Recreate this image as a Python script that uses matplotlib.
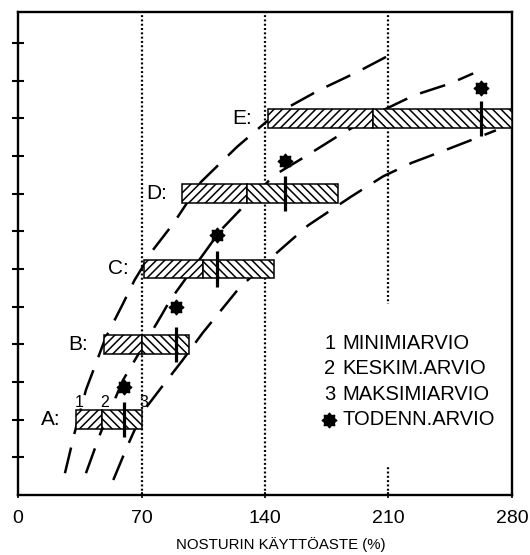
import matplotlib
matplotlib.use('Agg')
import matplotlib.pyplot as plt
from matplotlib import font_manager
from matplotlib.patches import Rectangle
from matplotlib.path import Path

# ---------------- data ----------------
categories = ['A', 'B', 'C', 'D', 'E']
levels = [2, 4, 6, 8, 10]
min_est = [33.0, 48.5, 71.6, 92.9, 141.5]     # 1 MINIMIARVIO
mid_est = [47.5, 70.0, 105.0, 129.9, 201.0]   # 2 KESKIM.ARVIO
max_est = [70.0, 97.2, 145.3, 181.1, 280.0]   # 3 MAKSIMIARVIO
prob_est = [59.8, 89.4, 112.6, 151.1, 262.2]  # TODENN.ARVIO
prob_star_y = [2.87, 4.99, 6.90, 8.87, 10.80]

upper_x = [26.6, 32.0, 38.5, 49.5, 59.5, 66.0, 76.4, 88.1, 103.7, 124.1, 140.6, 153.4, 170.4, 192.4, 210.3]
upper_y = [0.58, 1.64, 2.79, 4.16, 5.08, 5.70, 6.50, 7.21, 8.31, 9.24, 9.90, 10.30, 10.74, 11.23, 11.67]
middle_x = [38.5, 46.7, 59.5, 81.3, 86.2, 114.9, 127.6, 145.3, 162.3, 182.1, 205.0, 224.5, 244.8, 258.0]
middle_y = [0.58, 1.64, 3.05, 4.77, 5.17, 7.03, 7.65, 8.49, 8.97, 9.55, 10.17, 10.61, 10.92, 11.19]
lower_x = [54.0, 62.0, 70.6, 82.0, 92.8, 104.6, 125.1, 146.2, 164.5, 188.8, 207.0, 223.3, 241.4, 256.8, 270.9]
lower_y = [0.40, 1.30, 2.20, 2.90, 3.55, 4.30, 5.48, 6.41, 7.16, 7.92, 8.46, 8.82, 9.14, 9.42, 9.68]

x_ticks = [0, 70, 140, 210, 280]
y_ticks = list(range(1, 13))
grid_x = [70, 140, 210]
legend_nums = ['1', '2', '3', None]
legend_texts = ['MINIMIARVIO', 'KESKIM.ARVIO', 'MAKSIMIARVIO', 'TODENN.ARVIO']
x_label = 'NOSTURIN KÄYTTÖASTE (%)'

# ---------------- fonts ----------------
names = {f.name for f in font_manager.fontManager.ttflist}
if 'Liberation Sans Narrow' in names:
    BIG_FONT, LEG_SIZE, LAB_SIZE = 'Liberation Sans Narrow', 16.5, 17
else:
    BIG_FONT, LEG_SIZE, LAB_SIZE = 'Liberation Sans', 14.5, 15

plt.rcParams['font.family'] = ['Liberation Sans', 'DejaVu Sans']
plt.rcParams['hatch.linewidth'] = 1.1
plt.rcParams['lines.scale_dashes'] = False

fig = plt.figure(figsize=(5.3, 5.55), dpi=100)
ax = fig.add_axes([0.034, 0.108, 0.932, 0.871])
ax.set_xlim(0, 280)
ax.set_ylim(0, 12.83)

for gx in grid_x:
    ax.axvline(gx, color='black', lw=1.6, ls=(0, (1.4, 1.7)), zorder=1)

for cx, cy in [(upper_x, upper_y), (middle_x, middle_y), (lower_x, lower_y)]:
    ax.plot(cx, cy, color='black', lw=1.8, dashes=(19, 10), zorder=2)

h = 0.5
ax.barh(levels, [m - a for a, m in zip(min_est, mid_est)], left=min_est, height=h,
        facecolor='white', edgecolor='black', lw=1.1, hatch='////', zorder=3)
ax.barh(levels, [b - m for m, b in zip(mid_est, max_est)], left=mid_est, height=h,
        facecolor='white', edgecolor='black', lw=1.1, hatch='\\\\\\\\', zorder=3)

ax.vlines(prob_est, [l - 0.47 for l in levels], [l + 0.47 for l in levels],
          color='black', lw=2.3, zorder=4)

star = Path.unit_regular_star(8, 0.72)
ax.plot(prob_est, prob_star_y, ls='none', marker=star, ms=10.5, color='black', zorder=5)

for c, x0, lv in zip(categories, min_est, levels):
    ax.annotate(f'{c}:', xy=(x0, lv), xytext=(-11, 0), textcoords='offset points',
                ha='right', va='center', fontsize=LAB_SIZE, family=BIG_FONT, zorder=6)

for i, xv in enumerate([min_est[0], mid_est[0], max_est[0]]):
    ax.annotate(str(i + 1), xy=(xv, levels[0] + h / 2), xytext=(2, 0.5),
                textcoords='offset points', ha='center', va='bottom', fontsize=11.5, zorder=6)

# legend
ax.add_patch(Rectangle((0.60, 0.060), 0.37, 0.335, transform=ax.transAxes,
                       facecolor='white', edgecolor='none', zorder=2.5))
leg_y0, leg_dy = 0.314, 0.0527
for i, (n, t) in enumerate(zip(legend_nums, legend_texts)):
    yy = leg_y0 - i * leg_dy
    if n is not None:
        ax.text(0.620, yy, n, transform=ax.transAxes, ha='left', va='center',
                fontsize=LEG_SIZE, family=BIG_FONT, zorder=6)
    else:
        ax.plot([0.629], [yy], transform=ax.transAxes, ls='none', marker=star, ms=10.5,
                color='black', zorder=6, clip_on=False)
    ax.text(0.657, yy, t, transform=ax.transAxes, ha='left', va='center',
            fontsize=LEG_SIZE, family=BIG_FONT, zorder=6)

for s in ax.spines.values():
    s.set_linewidth(1.7)

ax.set_xticks(x_ticks)
ax.set_xticklabels([str(v) for v in x_ticks])
ax.set_yticks(y_ticks)
ax.set_yticklabels([])
ax.tick_params(axis='y', direction='inout', length=8, width=1.5)
ax.tick_params(axis='x', direction='inout', length=4, width=1.2, pad=9, labelsize=14)

ax.set_xlabel(x_label, fontsize=10.8)
ax.xaxis.set_label_coords(0.531, -0.103)
ax.xaxis.label.set_va('center')

fig.savefig('out.png', dpi=100)
